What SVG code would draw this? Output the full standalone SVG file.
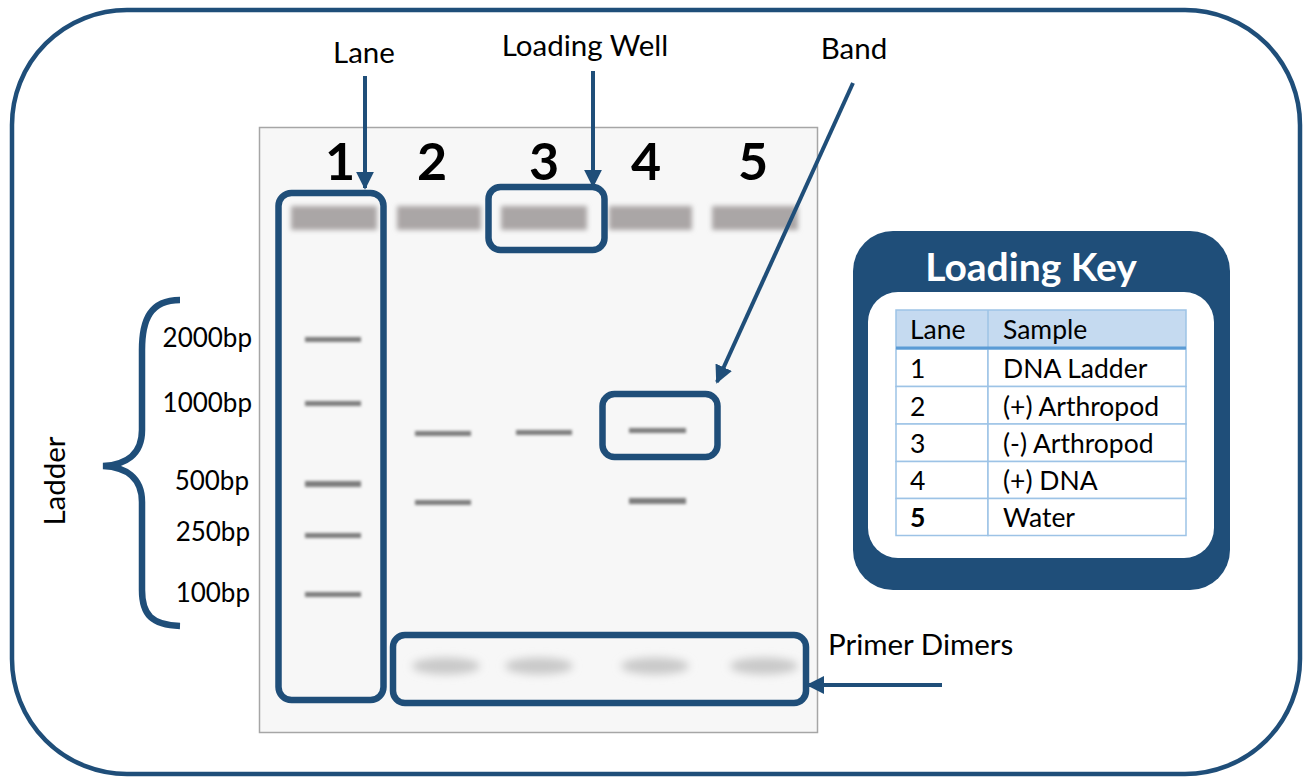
<svg xmlns="http://www.w3.org/2000/svg" width="1308" height="781" viewBox="0 0 1308 781">
<defs>
<filter id="blur2" x="-20%" y="-100%" width="140%" height="300%"><feGaussianBlur stdDeviation="1.6"/></filter>
<filter id="blur3" x="-20%" y="-100%" width="140%" height="300%"><feGaussianBlur stdDeviation="2.5"/></filter>
<filter id="blur5" x="-30%" y="-100%" width="160%" height="300%"><feGaussianBlur stdDeviation="4"/></filter>
<marker id="ah" viewBox="0 0 10 10" refX="9" refY="5" markerWidth="4.5" markerHeight="4.5" orient="auto" markerUnits="strokeWidth">
<path d="M0,0 L10,5 L0,10 Z" fill="#1f4e79"/>
</marker>
<style>
.t{font-family:"Lato","Liberation Sans",sans-serif;fill:#000}
.lbl{font-size:29.5px}
.bp{font-size:26px;text-anchor:end}
.num{font-size:52px;font-weight:bold;text-anchor:middle}
.box{fill:none;stroke:#1f4e79;stroke-width:6.5}
.conn{stroke:#1f4e79;stroke-width:4;fill:none}
.brace{stroke:#1f4e79;stroke-width:6.5;fill:none}
.well{fill:#aaa6a6;filter:url(#blur3)}
.band{fill:#7c7c7c;filter:url(#blur2)}
.dimer{fill:#c9c9c9;filter:url(#blur5)}
.tb{font-size:26.5px}
.cell{fill:#fff;stroke:#9dc3e6;stroke-width:1.5}
</style>
</defs>
<rect x="12" y="10" width="1288" height="764" rx="115" fill="#fff" stroke="#1f4e79" stroke-width="4.5"/>

<g id="gel">
<rect x="259.5" y="127.5" width="558" height="605" fill="#f7f7f7" stroke="#a6a6a6" stroke-width="1.5"/>
<g id="lane-numbers">
<text class="t num" x="340" y="180">1</text>
<text class="t num" x="432" y="180">2</text>
<text class="t num" x="544" y="180">3</text>
<text class="t num" x="646" y="180">4</text>
<text class="t num" x="753" y="180">5</text>
</g>
<g id="wells">
<rect class="well" x="291" y="206" width="86" height="24"/>
<rect class="well" x="397" y="206" width="84" height="24"/>
<rect class="well" x="501" y="206" width="86" height="24"/>
<rect class="well" x="609" y="206" width="83" height="24"/>
<rect class="well" x="712" y="206" width="86" height="24"/>
</g>
<g id="bands">
<rect class="band" x="305" y="337" width="56" height="5"/>
<rect class="band" x="305" y="401" width="56" height="5"/>
<rect class="band" x="305" y="481" width="56" height="6" fill="#666"/>
<rect class="band" x="305" y="533" width="56" height="5"/>
<rect class="band" x="305" y="592" width="56" height="5"/>
<rect class="band" x="415" y="431" width="56" height="5"/>
<rect class="band" x="415" y="500" width="56" height="5"/>
<rect class="band" x="516" y="430" width="56" height="5"/>
<rect class="band" x="629" y="428" width="57" height="5"/>
<rect class="band" x="629" y="498" width="57" height="6" fill="#606060"/>
</g>
<g id="dimers">
<ellipse class="dimer" cx="446" cy="666" rx="34" ry="8.5"/>
<ellipse class="dimer" cx="539" cy="666" rx="34" ry="8.5"/>
<ellipse class="dimer" cx="655" cy="666" rx="34" ry="8.5"/>
<ellipse class="dimer" cx="764" cy="666" rx="34" ry="8.5"/>
</g>
</g>

<g id="lane-box"><rect class="box" x="278.5" y="193" width="105" height="507" rx="13"/></g>
<g id="well-box"><rect class="box" x="488.5" y="187" width="116" height="63" rx="12"/></g>
<g id="band-box"><rect class="box" x="602.5" y="394" width="115" height="63" rx="12"/></g>
<g id="dimer-box"><rect class="box" x="393" y="635" width="413" height="68" rx="12"/></g>

<g id="ladder-labels">
<text class="t bp" x="252" y="347">2000bp</text>
<text class="t bp" x="252" y="412">1000bp</text>
<text class="t bp" x="249" y="490">500bp</text>
<text class="t bp" x="250" y="541">250bp</text>
<text class="t bp" x="250" y="602">100bp</text>
</g>
<g id="brace"><path class="brace" d="M180,300 C150,300 142,320 142,350 L142,430 C142,455 125,465 103,466 C125,467 142,477 142,502 L142,590 C142,615 152,625 180,626"/></g>
<g id="ladder-label"><text class="t lbl" transform="translate(65,481) rotate(-90)" text-anchor="middle">Ladder</text></g>

<g id="labels">
<text class="t lbl" x="364" y="63" text-anchor="middle">Lane</text>
<text class="t lbl" x="585" y="56" text-anchor="middle">Loading Well</text>
<text class="t lbl" x="854" y="59" text-anchor="middle">Band</text>
<text class="t lbl" x="828" y="655">Primer Dimers</text>
</g>

<g id="connectors">
<line class="conn" x1="365" y1="76" x2="365" y2="188" marker-end="url(#ah)"/>
<line class="conn" x1="593" y1="71" x2="593" y2="186" marker-end="url(#ah)"/>
<line class="conn" x1="853" y1="83" x2="717" y2="382" marker-end="url(#ah)"/>
<line class="conn" x1="942" y1="685" x2="808" y2="685" marker-end="url(#ah)"/>
</g>

<g id="loading-key">
<rect x="853" y="231" width="377" height="359" rx="40" fill="#1f4e79"/>
<rect x="868" y="292" width="346" height="266" rx="30" fill="#fff"/>
<text class="t" x="1031" y="281" text-anchor="middle" font-size="39" font-weight="bold" style="fill:#fff">Loading Key</text>
<rect x="896" y="310" width="290" height="38" fill="#c5daf0" stroke="#9dc3e6" stroke-width="1.5"/>
<line x1="988" y1="310" x2="988" y2="348" stroke="#9dc3e6" stroke-width="1.5"/>
<rect class="cell" x="896" y="349" width="92" height="37.5"/><rect class="cell" x="988" y="349" width="198" height="37.5"/>
<rect class="cell" x="896" y="386.5" width="92" height="37.5"/><rect class="cell" x="988" y="386.5" width="198" height="37.5"/>
<rect class="cell" x="896" y="424" width="92" height="37.5"/><rect class="cell" x="988" y="424" width="198" height="37.5"/>
<rect class="cell" x="896" y="461.5" width="92" height="37"/><rect class="cell" x="988" y="461.5" width="198" height="37"/>
<rect class="cell" x="896" y="498.5" width="92" height="37"/><rect class="cell" x="988" y="498.5" width="198" height="37"/>
<line x1="896" y1="348" x2="1186" y2="348" stroke="#5b9bd5" stroke-width="3"/>
<text class="t tb" x="910" y="339">Lane</text><text class="t tb" x="1003" y="339">Sample</text>
<text class="t tb" x="910" y="378">1</text><text class="t tb" x="1003" y="378">DNA Ladder</text>
<text class="t tb" x="910" y="416">2</text><text class="t tb" x="1003" y="416">(+) Arthropod</text>
<text class="t tb" x="910" y="453">3</text><text class="t tb" x="1003" y="453">(-) Arthropod</text>
<text class="t tb" x="910" y="490">4</text><text class="t tb" x="1003" y="490">(+) DNA</text>
<text class="t tb" x="910" y="527" font-weight="bold">5</text><text class="t tb" x="1003" y="527">Water</text>
</g>
</svg>
